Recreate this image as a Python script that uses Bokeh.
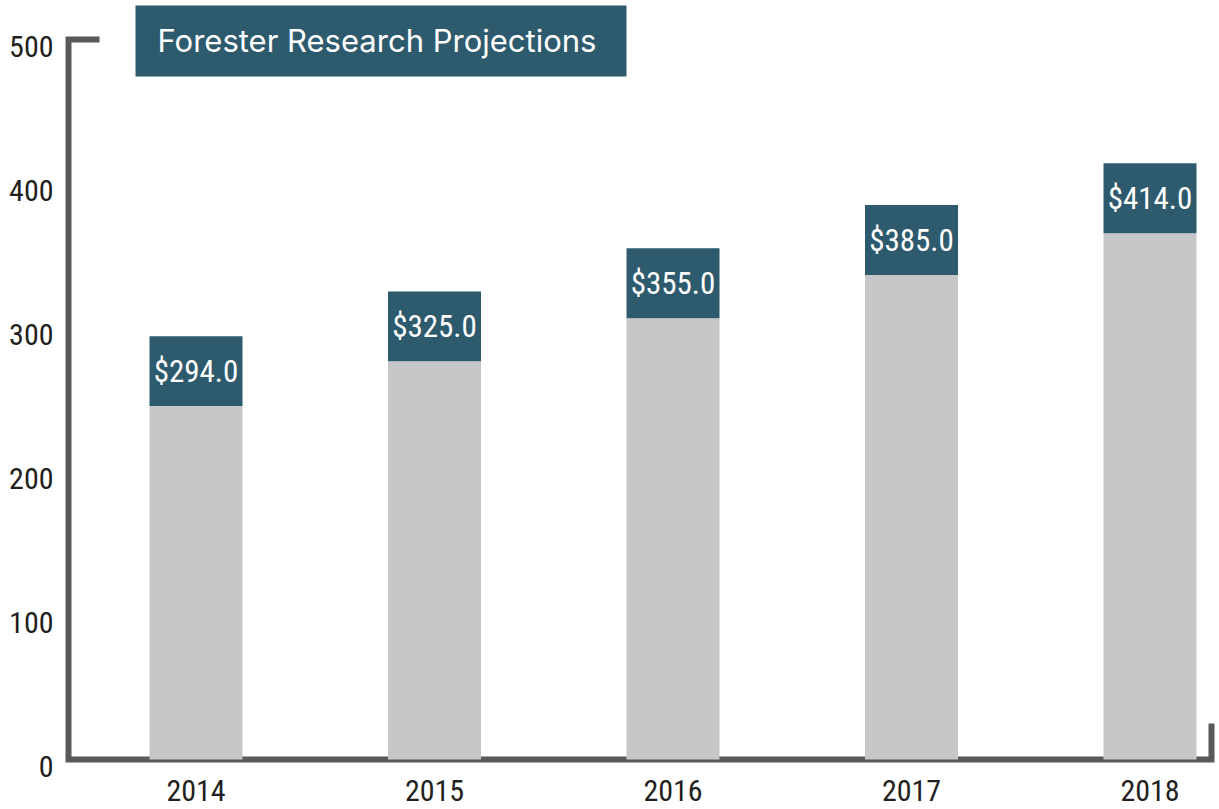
from bokeh.plotting import figure
from bokeh.models import Range1d, ColumnDataSource
from bokeh.core.properties import value
from bokeh.embed import file_html
from bokeh.resources import INLINE

# ---- data ----
years = ["2014", "2015", "2016", "2017", "2018"]
values = [294.0, 325.0, 355.0, 385.0, 414.0]
y_ticks = [0, 100, 200, 300, 400, 500]
y_tick_labels = ["0", "100", "200", "300", "400", "500"]
title_text = "Forester Research Projections"

# ---- style / layout ----
TEAL = "#2e5a6d"
BAR_GRAY = "#c6c7c9"
AXIS_GRAY = "#58595b"
TEXT_DARK = "#231f20"
NARROW = "Roboto Condensed, DejaVu Sans Condensed, Roboto"
CAP = 48.5        # height of the dark label cap (data units)
BAR_W = 0.39

# picture-pixel -> data helpers for decorations
X_C0, X_STEP = 195.5, 238.5
Y_ZERO, Y_PPU = 759.0, 1.44
def dx(px): return (px - X_C0) / X_STEP
def dy(py): return (Y_ZERO - py) / Y_PPU

OX, OY = 0, 0     # observed page offset of the figure
W, H = 1215, 809

p = figure(width=W, height=H, output_backend="svg", toolbar_location=None,
           x_range=Range1d(dx(OX), dx(OX + W)), y_range=Range1d(dy(OY + H), dy(OY)),
           x_axis_location=None, y_axis_location=None,
           min_border_left=0, min_border_right=0,
           min_border_top=0, min_border_bottom=0)
p.xgrid.visible = False
p.ygrid.visible = False
p.outline_line_color = None
p.background_fill_color = "white"
p.border_fill_color = "white"

xs = list(range(len(years)))
src = ColumnDataSource(dict(
    x=xs,
    top=values,
    cap_bottom=[v - CAP for v in values],
    mid=[v - CAP / 2 for v in values],
    label=["${:.1f}".format(v) for v in values],
    year=years,
))
tick_src = ColumnDataSource(dict(y=y_ticks, text=y_tick_labels))

# y tick labels (value axis)
p.text(x=dx(53), y="y", text="text", source=tick_src, y_offset=7,
       text_align="right", text_baseline="middle",
       text_color=TEXT_DARK, text_font=value(NARROW), text_font_size="30px")

# axis bracket
p.line(x=[dx(99), dx(68), dx(68), dx(1211), dx(1211)],
       y=[y_ticks[-1], y_ticks[-1], 0, 0, dy(723)],
       line_color=AXIS_GRAY, line_width=6, line_join="miter")

# bars
p.vbar(x="x", bottom=0, top="cap_bottom", width=BAR_W, source=src,
       fill_color=BAR_GRAY, line_color=None)
p.vbar(x="x", bottom="cap_bottom", top="top", width=BAR_W, source=src,
       fill_color=TEAL, line_color=None)
p.text(x="x", y="mid", text="label", source=src,
       text_align="center", text_baseline="middle",
       text_color="white", text_font=value(NARROW), text_font_size="31px")

# year labels (category axis)
p.text(x="x", y=dy(790), text="year", source=src,
       text_align="center", text_baseline="middle",
       text_color=TEXT_DARK, text_font=value(NARROW), text_font_size="30px")

# title box
p.quad(left=dx(135), right=dx(626), top=dy(5), bottom=dy(76),
       fill_color=TEAL, line_color=None)
p.text(x=[dx(157)], y=[dy(40)], text=[title_text],
       text_align="left", text_baseline="middle",
       text_color="white", text_font=value("Inter"),
       text_font_style="normal", text_font_size="31px")

open("out.html", "w").write(file_html(p, INLINE))
